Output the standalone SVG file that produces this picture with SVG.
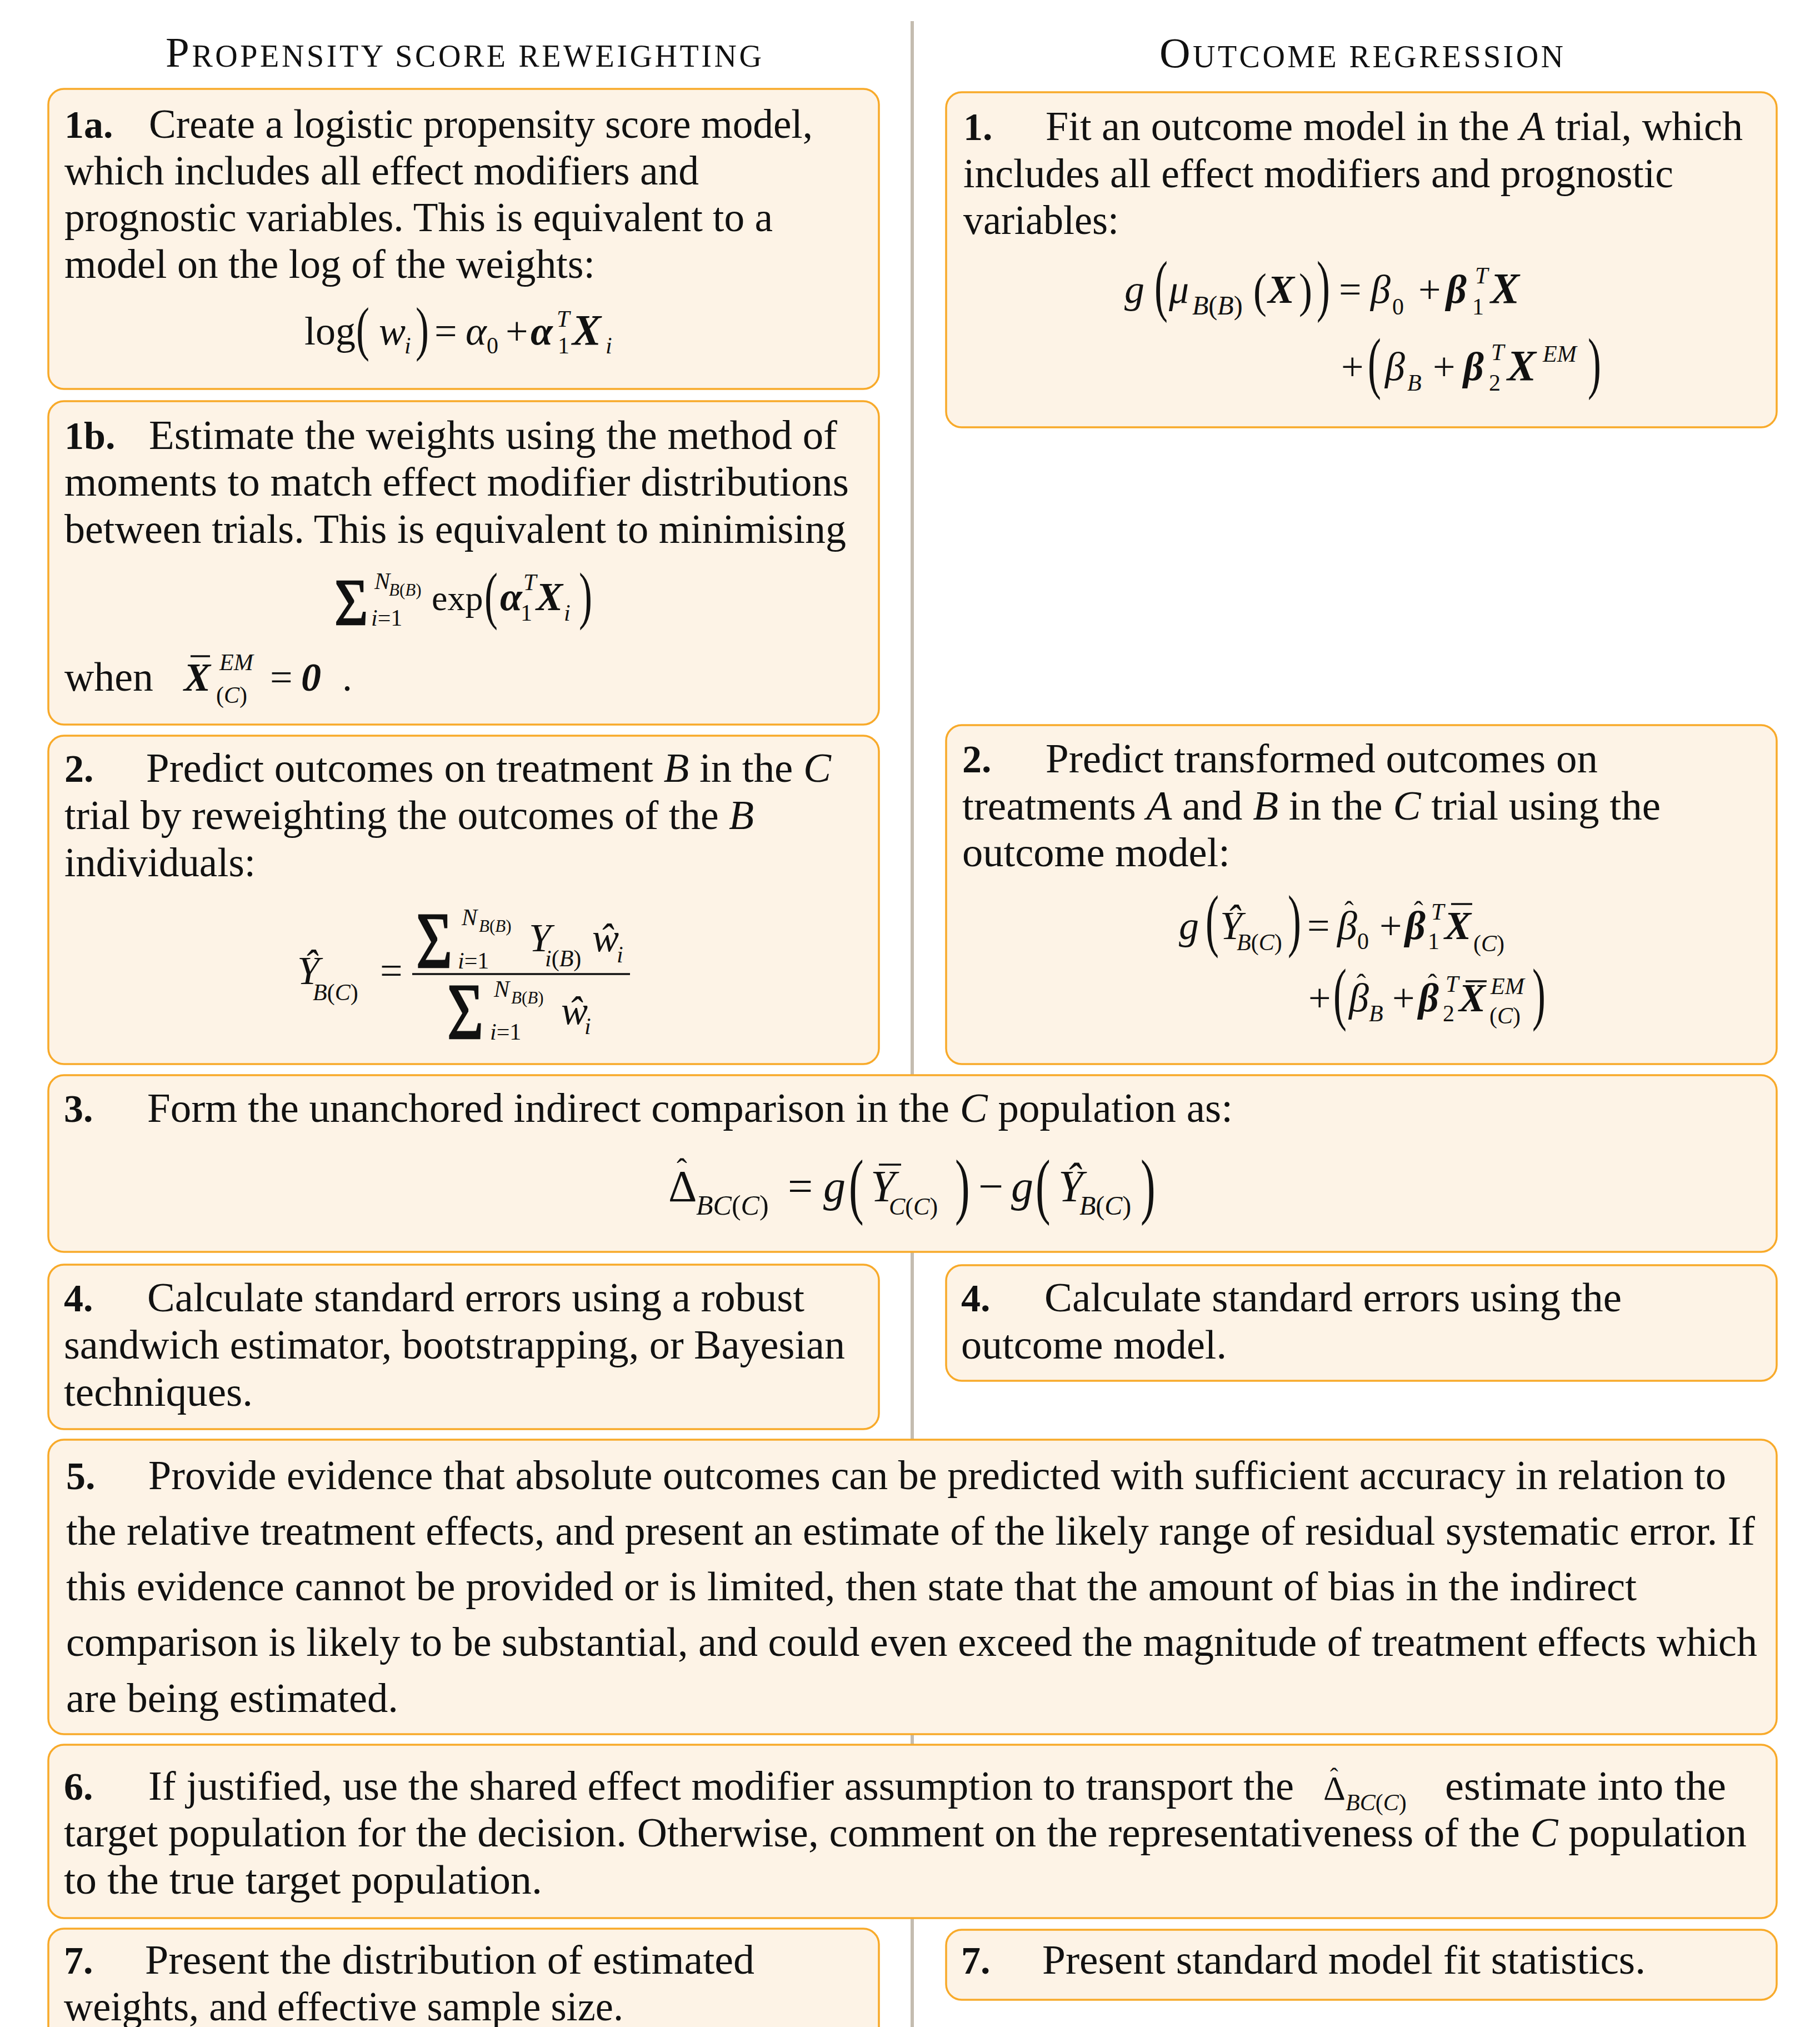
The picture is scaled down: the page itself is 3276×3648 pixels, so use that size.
<svg xmlns="http://www.w3.org/2000/svg" width="3276" height="3648" viewBox="0 0 3276 3648">
<style>
.box{fill:#FDF3E6;stroke:#F8AA2A;stroke-width:3.5}
.t{font-family:"Liberation Serif","Times New Roman",serif;font-size:74px;fill:#111}
.lb{font-family:"Liberation Serif","Times New Roman",serif;font-size:70px;font-weight:bold;fill:#111}
.h{font-family:"Liberation Serif","Times New Roman",serif;fill:#111}
.m{font-family:"Liberation Serif","Times New Roman",serif;font-size:72px;fill:#111}
.i{font-style:italic}
.b{font-weight:bold}
.s{font-size:42px}
.ss{font-size:31px}
.hat{font-size:50px}
.sig{stroke:#111;stroke-width:2}
.bar{stroke:#111;stroke-width:3.5}
.frac{stroke:#111;stroke-width:3.5}
</style>
<rect width="3276" height="3648" fill="#FFFFFF"/>

<g id="connectors">
<rect id="divider" x="1639" y="38" width="6" height="3610" fill="#C4BCB0"/>
</g>

<g id="headers" class="h">
<text x="298" y="120" textLength="1073" lengthAdjust="spacing"><tspan font-size="77">P</tspan><tspan font-size="56">ROPENSITY SCORE REWEIGHTING</tspan></text>
<text x="2087" y="121" textLength="727" lengthAdjust="spacing"><tspan font-size="77">O</tspan><tspan font-size="56">UTCOME REGRESSION</tspan></text>
</g>

<g id="node-1a">
<rect class="box" x="87" y="160" width="1495" height="540" rx="28"/>
<text class="lb" x="116" y="248">1a.</text>
<text class="t" x="268" y="248" textLength="1195" lengthAdjust="spacingAndGlyphs">Create a logistic propensity score model,</text>
<text class="t" x="116" y="332" textLength="1142" lengthAdjust="spacingAndGlyphs">which includes all effect modifiers and</text>
<text class="t" x="116" y="416" textLength="1275" lengthAdjust="spacingAndGlyphs">prognostic variables. This is equivalent to a</text>
<text class="t" x="116" y="500" textLength="955" lengthAdjust="spacingAndGlyphs">model on the log of the weights:</text>
<g class="m">
<text y="620"><tspan x="548">log</tspan><tspan x="682" class="i">w</tspan><tspan x="728" y="636" class="i s">i</tspan><tspan x="782" y="620">=</tspan><tspan x="838" class="i">α</tspan><tspan x="876" y="636" class="s">0</tspan><tspan x="910" y="620">+</tspan><tspan x="955" class="i b">α</tspan><tspan x="1002" y="588" class="i s">T</tspan><tspan x="1004" y="636" class="s">1</tspan><tspan x="1030" y="620" class="i b" font-size="78">X</tspan><tspan x="1090" y="636" class="i s">i</tspan></text>
<text transform="translate(641,628) scale(1,1.5)">(</text>
<text transform="translate(748,628) scale(1,1.5)">)</text>
</g>
</g>

<g id="node-1">
<rect class="box" x="1703" y="166" width="1495" height="603" rx="28"/>
<text class="lb" x="1734" y="252">1.</text>
<text class="t" x="1882" y="252" textLength="1255" lengthAdjust="spacingAndGlyphs">Fit an outcome model in the <tspan class="i">A</tspan> trial, which</text>
<text class="t" x="1734" y="337" textLength="1278" lengthAdjust="spacingAndGlyphs">includes all effect modifiers and prognostic</text>
<text class="t" x="1734" y="421" textLength="280" lengthAdjust="spacingAndGlyphs">variables:</text>
<g class="m">
<text y="545"><tspan x="2024" class="i">g</tspan><tspan x="2104" class="i">μ</tspan><tspan x="2146" y="566" font-size="48"><tspan class="i">B</tspan>(<tspan class="i">B</tspan>)</tspan><tspan x="2282" y="545" class="i b">X</tspan><tspan x="2410">=</tspan><tspan x="2467" class="i">β</tspan><tspan x="2506" y="566" class="s">0</tspan><tspan x="2553" y="545">+</tspan><tspan x="2603" class="i b">β</tspan><tspan x="2655" y="510" class="i s">T</tspan><tspan x="2650" y="566" class="s">1</tspan><tspan x="2683" y="545" class="i b" font-size="78">X</tspan></text>
<text transform="translate(2078,555) scale(1,1.7)">(</text>
<text transform="translate(2256,552) scale(1,1.2)">(</text>
<text transform="translate(2338,552) scale(1,1.2)">)</text>
<text transform="translate(2370,555) scale(1,1.7)">)</text>
<text y="684"><tspan x="2414">+</tspan><tspan x="2493" class="i">β</tspan><tspan x="2533" y="703" class="i s">B</tspan><tspan x="2579" y="684">+</tspan><tspan x="2634" class="i b">β</tspan><tspan x="2684" y="648" class="i s">T</tspan><tspan x="2680" y="703" class="s">2</tspan><tspan x="2713" y="684" class="i b" font-size="78">X</tspan><tspan x="2777" y="651" class="i s">EM</tspan></text>
<text transform="translate(2462,694) scale(1,1.7)">(</text>
<text transform="translate(2858,694) scale(1,1.7)">)</text>
</g>
</g>

<g id="node-1b">
<rect class="box" x="87" y="722" width="1495" height="582" rx="28"/>
<text class="lb" x="116" y="808">1b.</text>
<text class="t" x="268" y="808" textLength="1239" lengthAdjust="spacingAndGlyphs">Estimate the weights using the method of</text>
<text class="t" x="116" y="892" textLength="1412" lengthAdjust="spacingAndGlyphs">moments to match effect modifier distributions</text>
<text class="t" x="116" y="977" textLength="1407" lengthAdjust="spacingAndGlyphs">between trials. This is equivalent to minimising</text>
<g class="m">
<text class="sig" font-size="104" transform="translate(602,1124) scale(1,1.15)">Σ</text>
<text class="s i" x="674" y="1060">N</text>
<text class="ss" x="700" y="1072"><tspan class="i">B</tspan>(<tspan class="i">B</tspan>)</text>
<text class="s" x="668" y="1126"><tspan class="i">i</tspan>=1</text>
<text y="1098"><tspan x="777" font-size="64">exp</tspan><tspan x="900" class="i b">α</tspan><tspan x="942" y="1062" class="i s">T</tspan><tspan x="937" y="1117" class="s">1</tspan><tspan x="965" y="1098" class="i b">X</tspan><tspan x="1015" y="1117" class="i s">i</tspan></text>
<text transform="translate(872,1110) scale(1,1.6)">(</text>
<text transform="translate(1042,1110) scale(1,1.6)">)</text>
</g>
<text class="t" x="116" y="1243" textLength="160" lengthAdjust="spacingAndGlyphs">when</text>
<g class="m">
<text y="1243"><tspan x="331" class="i b">X</tspan><tspan x="395" y="1206" class="i s">EM</tspan><tspan x="389" y="1265" class="s">(<tspan class="i">C</tspan>)</tspan><tspan x="486" y="1243">=</tspan><tspan x="542" class="i b">0</tspan><tspan x="616">.</tspan></text>
<line class="bar" x1="343" y1="1181" x2="378" y2="1181"/>
</g>
</g>

<g id="node-2-psw">
<rect class="box" x="87" y="1324" width="1495" height="591" rx="28"/>
<text class="lb" x="116" y="1407">2.</text>
<text class="t" x="263" y="1407" textLength="1233" lengthAdjust="spacingAndGlyphs">Predict outcomes on treatment <tspan class="i">B</tspan> in the <tspan class="i">C</tspan></text>
<text class="t" x="116" y="1492" textLength="1241" lengthAdjust="spacingAndGlyphs">trial by reweighting the outcomes of the <tspan class="i">B</tspan></text>
<text class="t" x="116" y="1577" textLength="344" lengthAdjust="spacingAndGlyphs">individuals:</text>
<g class="m">
<text y="1771"><tspan x="535" class="i">Ŷ</tspan><tspan x="563" y="1800" class="s"><tspan class="i">B</tspan>(<tspan class="i">C</tspan>)</tspan><tspan x="684" y="1771">=</tspan></text>
<line class="frac" x1="742" y1="1753" x2="1134" y2="1753"/>
<text class="sig" font-size="112" transform="translate(749,1741) scale(1,1.28)">Σ</text>
<text class="s i" x="831" y="1665">N</text>
<text class="ss" x="862" y="1677"><tspan class="i">B</tspan>(<tspan class="i">B</tspan>)</text>
<text class="s" x="824" y="1743"><tspan class="i">i</tspan>=1</text>
<text y="1712"><tspan x="952" class="i">Y</tspan><tspan x="981" y="1739" class="s"><tspan class="i">i</tspan>(<tspan class="i">B</tspan>)</tspan><tspan x="1066" y="1712" class="i">ŵ</tspan><tspan x="1110" y="1732" class="i s">i</tspan></text>
<text class="sig" font-size="112" transform="translate(805,1869) scale(1,1.28)">Σ</text>
<text class="s i" x="889" y="1794">N</text>
<text class="ss" x="920" y="1806"><tspan class="i">B</tspan>(<tspan class="i">B</tspan>)</text>
<text class="s" x="882" y="1871"><tspan class="i">i</tspan>=1</text>
<text y="1843"><tspan x="1010" class="i">ŵ</tspan><tspan x="1052" y="1861" class="i s">i</tspan></text>
</g>
</g>

<g id="node-2-or">
<rect class="box" x="1703" y="1305" width="1495" height="610" rx="28"/>
<text class="lb" x="1732" y="1390">2.</text>
<text class="t" x="1882" y="1390" textLength="994" lengthAdjust="spacingAndGlyphs">Predict transformed outcomes on</text>
<text class="t" x="1732" y="1475" textLength="1257" lengthAdjust="spacingAndGlyphs">treatments <tspan class="i">A</tspan> and <tspan class="i">B</tspan> in the <tspan class="i">C</tspan> trial using the</text>
<text class="t" x="1732" y="1559" textLength="482" lengthAdjust="spacingAndGlyphs">outcome model:</text>
<g class="m">
<text y="1690"><tspan x="2122" class="i">g</tspan><tspan x="2196" class="i">Ŷ</tspan><tspan x="2226" y="1710" class="s"><tspan class="i">B</tspan>(<tspan class="i">C</tspan>)</tspan><tspan x="2353" y="1690">=</tspan><tspan x="2407" class="i">β</tspan><tspan x="2443" y="1708" class="s">0</tspan><tspan x="2483" y="1690">+</tspan><tspan x="2529" class="i b">β</tspan><tspan x="2576" y="1655" class="i s">T</tspan><tspan x="2570" y="1708" class="s">1</tspan><tspan x="2600" y="1690" class="i b">X</tspan><tspan x="2652" y="1712" class="s">(<tspan class="i">C</tspan>)</tspan></text>
<text transform="translate(2170,1698) scale(1,1.75)">(</text>
<text transform="translate(2318,1698) scale(1,1.75)">)</text>
<text class="hat" x="2420" y="1657">ˆ</text>
<text class="hat" x="2545" y="1657">ˆ</text>
<line class="bar" x1="2612" y1="1627" x2="2650" y2="1627"/>
<text y="1820"><tspan x="2355">+</tspan><tspan x="2428" class="i">β</tspan><tspan x="2464" y="1838" class="i s">B</tspan><tspan x="2506" y="1820">+</tspan><tspan x="2553" class="i b">β</tspan><tspan x="2602" y="1785" class="i s">T</tspan><tspan x="2597" y="1838" class="s">2</tspan><tspan x="2626" y="1820" class="i b">X</tspan><tspan x="2683" y="1789" class="i s">EM</tspan><tspan x="2681" y="1842" class="s">(<tspan class="i">C</tspan>)</tspan></text>
<text transform="translate(2400,1830) scale(1,1.75)">(</text>
<text transform="translate(2758,1830) scale(1,1.75)">)</text>
<text class="hat" x="2442" y="1788">ˆ</text>
<text class="hat" x="2570" y="1788">ˆ</text>
<line class="bar" x1="2638" y1="1766" x2="2676" y2="1766"/>
</g>
</g>

<g id="node-3">
<rect class="box" x="87" y="1935" width="3111" height="318" rx="28"/>
<text class="lb" x="115" y="2019">3.</text>
<text class="t" x="265" y="2019" textLength="1954" lengthAdjust="spacingAndGlyphs">Form the unanchored indirect comparison in the <tspan class="i">C</tspan> population as:</text>
<g class="m" font-size="80">
<text y="2162" font-size="80"><tspan x="1203">Δ</tspan><tspan x="1253" y="2186" font-size="50"><tspan class="i">BC</tspan>(<tspan class="i">C</tspan>)</tspan><tspan x="1418" y="2162">=</tspan><tspan x="1482" class="i">g</tspan><tspan x="1567" class="i">Y</tspan><tspan x="1600" y="2186" font-size="44"><tspan class="i">C</tspan>(<tspan class="i">C</tspan>)</tspan><tspan x="1761" y="2162">−</tspan><tspan x="1820" class="i">g</tspan><tspan x="1905" class="i">Ŷ</tspan><tspan x="1943" y="2186" font-size="48"><tspan class="i">B</tspan>(<tspan class="i">C</tspan>)</tspan></text>
<text x="1218" y="2124" font-size="56">ˆ</text>
<line class="bar" x1="1582" y1="2096" x2="1622" y2="2096"/>
<text font-size="80" transform="translate(1528,2178) scale(1,1.65)">(</text>
<text font-size="80" transform="translate(1719,2178) scale(1,1.65)">)</text>
<text font-size="80" transform="translate(1864,2178) scale(1,1.65)">(</text>
<text font-size="80" transform="translate(2053,2178) scale(1,1.65)">)</text>
</g>
</g>

<g id="node-4-psw">
<rect class="box" x="87" y="2276" width="1495" height="296" rx="28"/>
<text class="lb" x="115" y="2360">4.</text>
<text class="t" x="265" y="2360" textLength="1183" lengthAdjust="spacingAndGlyphs">Calculate standard errors using a robust</text>
<text class="t" x="115" y="2445" textLength="1406" lengthAdjust="spacingAndGlyphs">sandwich estimator, bootstrapping, or Bayesian</text>
<text class="t" x="115" y="2530" textLength="340" lengthAdjust="spacingAndGlyphs">techniques.</text>
</g>

<g id="node-4-or">
<rect class="box" x="1703" y="2277" width="1495" height="208" rx="28"/>
<text class="lb" x="1730" y="2360">4.</text>
<text class="t" x="1880" y="2360" textLength="1039" lengthAdjust="spacingAndGlyphs">Calculate standard errors using the</text>
<text class="t" x="1730" y="2445" textLength="478" lengthAdjust="spacingAndGlyphs">outcome model.</text>
</g>

<g id="node-5">
<rect class="box" x="87" y="2591" width="3111" height="530" rx="28"/>
<text class="lb" x="119" y="2680">5.</text>
<text class="t" x="267" y="2680" textLength="2840" lengthAdjust="spacingAndGlyphs">Provide evidence that absolute outcomes can be predicted with sufficient accuracy in relation to</text>
<text class="t" x="119" y="2780" textLength="3040" lengthAdjust="spacingAndGlyphs">the relative treatment effects, and present an estimate of the likely range of residual systematic error. If</text>
<text class="t" x="119" y="2880" textLength="2827" lengthAdjust="spacingAndGlyphs">this evidence cannot be provided or is limited, then state that the amount of bias in the indirect</text>
<text class="t" x="119" y="2980" textLength="3044" lengthAdjust="spacingAndGlyphs">comparison is likely to be substantial, and could even exceed the magnitude of treatment effects which</text>
<text class="t" x="119" y="3081" textLength="598" lengthAdjust="spacingAndGlyphs">are being estimated.</text>
</g>

<g id="node-6">
<rect class="box" x="87" y="3140" width="3111" height="312" rx="28"/>
<text class="lb" x="115" y="3239">6.</text>
<text class="t" x="267" y="3239" textLength="2062" lengthAdjust="spacingAndGlyphs">If justified, use the shared effect modifier assumption to transport the</text>
<g class="m">
<text y="3239" font-size="62"><tspan x="2382">Δ</tspan><tspan x="2422" y="3258" font-size="42"><tspan class="i">BC</tspan>(<tspan class="i">C</tspan>)</tspan></text>
<text x="2394" y="3212" font-size="44">ˆ</text>
</g>
<text class="t" x="2601" y="3239" textLength="506" lengthAdjust="spacingAndGlyphs">estimate into the</text>
<text class="t" x="115" y="3323" textLength="3029" lengthAdjust="spacingAndGlyphs">target population for the decision. Otherwise, comment on the representativeness of the <tspan class="i">C</tspan> population</text>
<text class="t" x="115" y="3408" textLength="861" lengthAdjust="spacingAndGlyphs">to the true target population.</text>
</g>

<g id="node-7-psw">
<rect class="box" x="87" y="3471" width="1495" height="240" rx="28"/>
<text class="lb" x="115" y="3552">7.</text>
<text class="t" x="261" y="3552" textLength="1097" lengthAdjust="spacingAndGlyphs">Present the distribution of estimated</text>
<text class="t" x="115" y="3636" textLength="1007" lengthAdjust="spacingAndGlyphs">weights, and effective sample size.</text>
</g>

<g id="node-7-or">
<rect class="box" x="1703" y="3473" width="1495" height="126" rx="28"/>
<text class="lb" x="1730" y="3552">7.</text>
<text class="t" x="1876" y="3552" textLength="1086" lengthAdjust="spacingAndGlyphs">Present standard model fit statistics.</text>
</g>
</svg>
